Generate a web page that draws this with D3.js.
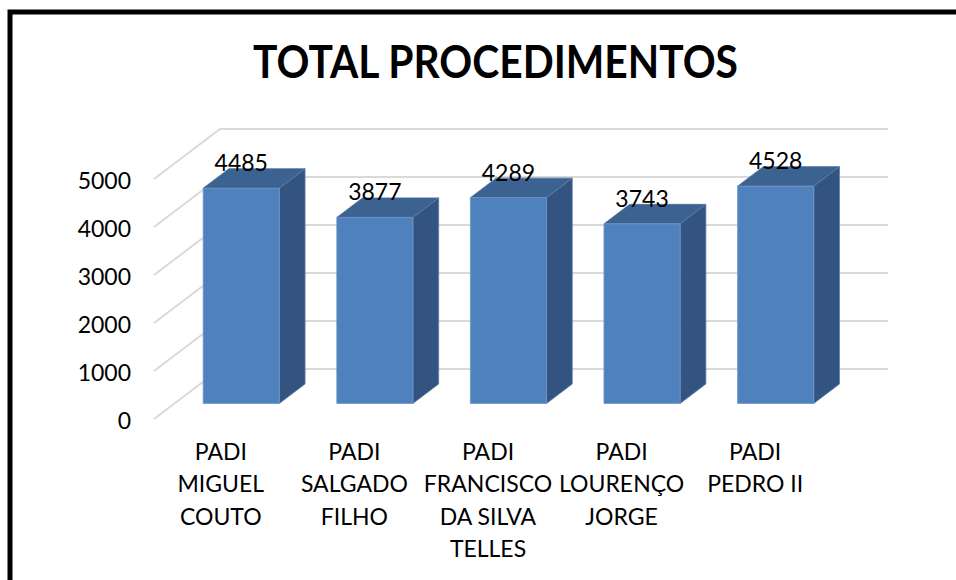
<!DOCTYPE html>
<html>
<head>
<meta charset="utf-8">
<script src="https://cdn.jsdelivr.net/npm/d3@7"></script>
<style>
  html, body { margin: 0; background: #fff; }
  svg { display: block; }
  text { font-family: Lato, "Open Sans", sans-serif; fill: #000; }
</style>
</head>
<body>
<svg id="chart" width="956" height="580"></svg>
<script>
const chartTitle = "TOTAL PROCEDIMENTOS";
const categories = [
  "PADI MIGUEL COUTO",
  "PADI SALGADO FILHO",
  "PADI FRANCISCO DA SILVA TELLES",
  "PADI LOURENÇO JORGE",
  "PADI PEDRO II",
];
const categoryLines = [
  ["PADI", "MIGUEL", "COUTO"],
  ["PADI", "SALGADO", "FILHO"],
  ["PADI", "FRANCISCO", "DA SILVA", "TELLES"],
  ["PADI", "LOURENÇO", "JORGE"],
  ["PADI", "PEDRO II"],
];
const values = [4485, 3877, 4289, 3743, 4528];
const yTicks = [0, 1000, 2000, 3000, 4000, 5000];

const svg = d3.select("#chart");

// the oblique box: depth 0 is the front edge of the floor, depth 1 the back wall
const x = d3.scaleBand().domain(categories).range([154, 822]).paddingInner(0.43).paddingOuter(0.215);
const y = d3.scaleLinear().domain([0, 5000]).range([419, 179]);
const depthX = d3.scaleLinear().domain([0, 1]).range([0, 66]);
const depthY = d3.scaleLinear().domain([0, 1]).range([0, -50]);
const barFront = 0.31;
const barBack = 0.70;

const pt = (px, v, depth) => [px + depthX(depth), y(v) + depthY(depth)];
const poly = (pts) => pts.map((p) => p.join(",")).join(" ");

// frame, only top and left show in the picture
svg.append("path")
  .attr("d", d3.line()([[956, 12], [10, 12], [10, 580]]))
  .attr("fill", "none")
  .attr("stroke", "#000")
  .attr("stroke-width", 5);

// Lato runs wider than the original face, so squeeze it to the same width
svg.append("text")
  .attr("x", 495.5)
  .attr("y", 78)
  .attr("text-anchor", "middle")
  .attr("font-size", 45)
  .attr("font-weight", 700)
  .attr("textLength", 485)
  .attr("lengthAdjust", "spacingAndGlyphs")
  .text(chartTitle);

// gridlines: along the side wall, then along the back wall
const grid = svg.append("g").attr("fill", "none").attr("stroke", "#d9d9d9").attr("stroke-width", 2);
yTicks.forEach((t) => {
  grid.append("polyline").attr("points", poly([
    pt(x.range()[0], t, 0),
    pt(x.range()[0], t, 1),
    pt(x.range()[1], t, 1),
  ]));
});

const yAxis = d3.axisLeft(y).tickValues(yTicks).tickSize(0).tickPadding(23).tickFormat(d3.format("d"));
const yG = svg.append("g").attr("transform", `translate(${x.range()[0]},1.5)`).call(yAxis);
yG.select(".domain").remove();
yG.selectAll("text").attr("font-size", 23).attr("dy", "0.36em");

const bars = svg.append("g").selectAll("g").data(categories).join("g");

bars.each(function (c, i) {
  const g = d3.select(this);
  const x0 = x(c);
  const x1 = x0 + x.bandwidth();
  const v = values[i];
  // top
  g.append("polygon")
    .attr("fill", "#3c6291")
    .attr("stroke", "#4a70a0")
    .attr("stroke-width", 0.8)
    .attr("points", poly([pt(x0, v, barFront), pt(x1, v, barFront), pt(x1, v, barBack), pt(x0, v, barBack)]));
  // side
  g.append("polygon")
    .attr("fill", "#335480")
    .attr("stroke", "#5f7fa8")
    .attr("stroke-width", 0.8)
    .attr("points", poly([pt(x1, 0, barFront), pt(x1, v, barFront), pt(x1, v, barBack), pt(x1, 0, barBack)]));
  // front
  g.append("polygon")
    .attr("fill", "#4f81bd")
    .attr("stroke", "#6f97c8")
    .attr("stroke-width", 0.8)
    .attr("points", poly([pt(x0, 0, barFront), pt(x1, 0, barFront), pt(x1, v, barFront), pt(x0, v, barFront)]));
  // value label
  const [lx, ly] = pt(x0 + x.bandwidth() / 2, v, barFront);
  g.append("text")
    .attr("x", lx)
    .attr("y", ly - 17)
    .attr("text-anchor", "middle")
    .attr("font-size", 23)
    .attr("font-weight", 400)
    .text(d3.format("d")(v));
});

// category labels come from the band axis, wrapped by hand like the original
const xAxis = d3.axisBottom(x).tickSize(0).tickFormat("");
const xG = svg.append("g").attr("transform", "translate(0,431)").call(xAxis);
xG.select(".domain").remove();
xG.selectAll(".tick text").each(function (c, i) {
  const t = d3.select(this).attr("font-size", 23).attr("y", 29).attr("dy", null);
  t.selectAll("tspan").data(categoryLines[i]).join("tspan")
    .attr("x", 0)
    .attr("dy", (d, k) => (k === 0 ? 0 : 32.3))
    .text((d) => d);
});
</script>
</body>
</html>
